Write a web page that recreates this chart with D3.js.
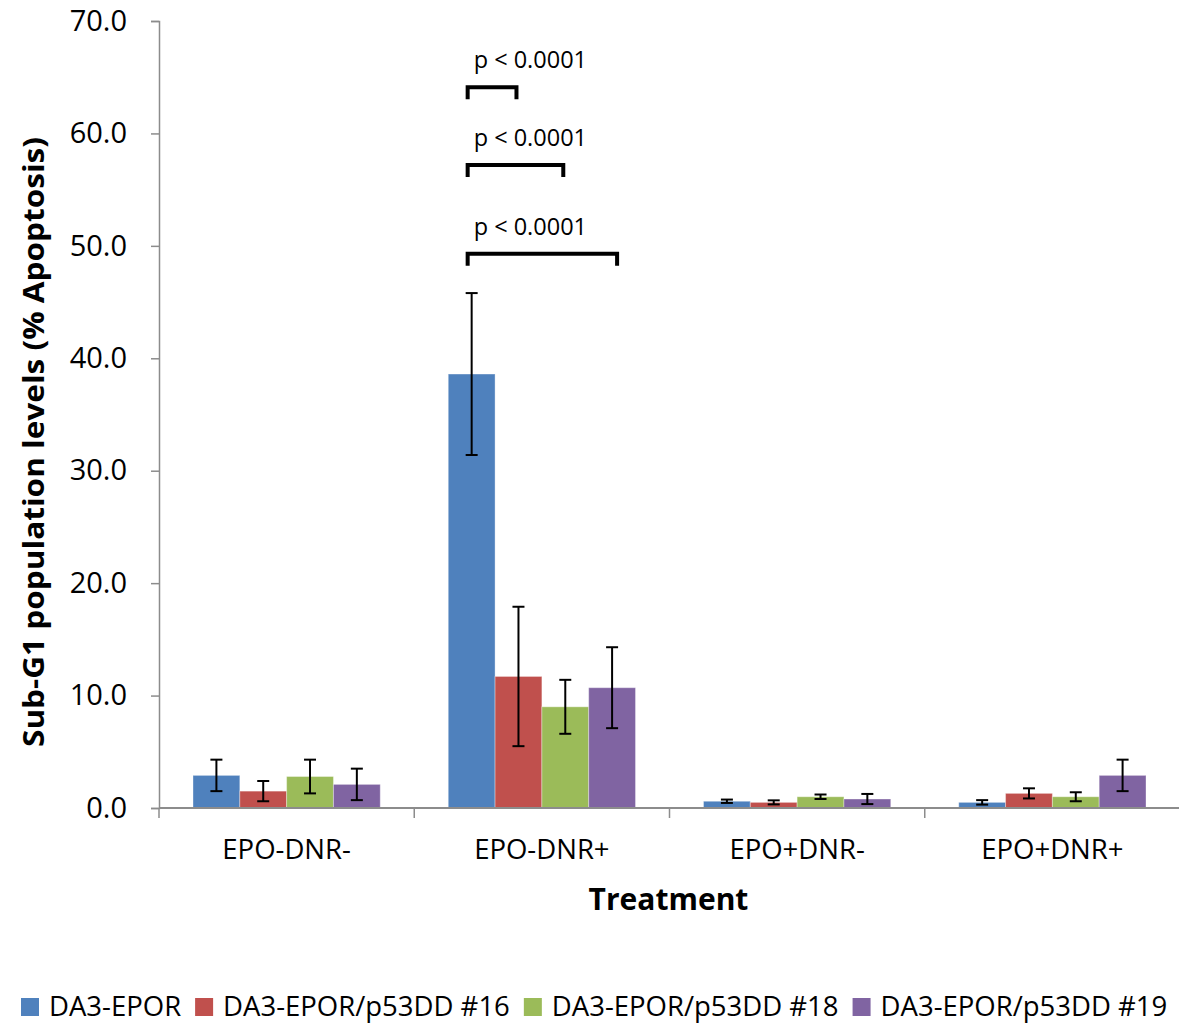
<!DOCTYPE html>
<html>
<head>
<meta charset="utf-8">
<script src="https://cdn.jsdelivr.net/npm/d3@7"></script>
<style>
  html, body { margin: 0; padding: 0; background: #fff; }
  svg { display: block; }
</style>
</head>
<body>
<svg id="chart" width="1179" height="1023"></svg>
<script>
// ---- data ----
const categories = ["EPO-DNR-", "EPO-DNR+", "EPO+DNR-", "EPO+DNR+"];
const seriesNames = ["DA3-EPOR", "DA3-EPOR/p53DD #16", "DA3-EPOR/p53DD #18", "DA3-EPOR/p53DD #19"];
const seriesColors = ["#4F81BD", "#C0504D", "#9BBB59", "#8064A2"];
const meanDA3 = [2.9, 38.6, 0.6, 0.5];
const mean16  = [1.5, 11.7, 0.5, 1.3];
const mean18  = [2.8, 9.0, 1.0, 1.0];
const mean19  = [2.1, 10.7, 0.8, 2.9];
const errDA3  = [1.4, 7.2, 0.15, 0.2];
const err16   = [0.9, 6.2, 0.18, 0.45];
const err18   = [1.5, 2.4, 0.2, 0.4];
const err19   = [1.4, 3.6, 0.45, 1.4];
const yTicks = [0, 10, 20, 30, 40, 50, 60, 70];
const sigLabels = ["p < 0.0001", "p < 0.0001", "p < 0.0001"];
const sigCategory = ["EPO-DNR+", "EPO-DNR+", "EPO-DNR+"];
const sigFrom = [0, 0, 0];
const sigTo = [1, 2, 3];
const sigLevel = [64.1, 57.2, 49.3];

const means = [meanDA3, mean16, mean18, mean19];
const errs = [errDA3, err16, err18, err19];

(function () {
// ---- layout ----
const svg = d3.select("#chart");
const pLeft = 159, pRight = 1180, pTop = 21, pBottom = 808;
const font = "'Open Sans', sans-serif";

const x = d3.scaleBand().domain(categories).range([pLeft, pRight]).padding(0);
const xs = d3.scaleBand().domain(d3.range(seriesNames.length))
  .range([34, x.bandwidth() - 34]).padding(0);
const y = d3.scaleLinear().domain([0, 70]).range([pBottom, pTop]);

// bars
const data = [];
categories.forEach((c, ci) => {
  seriesNames.forEach((s, si) => {
    data.push({ c, si, v: means[si][ci], e: errs[si][ci] });
  });
});

svg.append("g").selectAll("rect").data(data).join("rect")
  .attr("x", d => x(d.c) + xs(d.si))
  .attr("y", d => y(d.v))
  .attr("width", xs.bandwidth())
  .attr("height", d => y(0) - y(d.v))
  .attr("fill", d => seriesColors[d.si])
  .attr("stroke", "rgba(255,255,255,0.35)")
  .attr("stroke-width", 1);

// error bars
const eg = svg.append("g").attr("stroke", "#000").attr("stroke-width", 2);
data.forEach(d => {
  const cx = x(d.c) + xs(d.si) + xs.bandwidth() / 2;
  const y1 = y(d.v + d.e), y2 = y(Math.max(0, d.v - d.e));
  eg.append("line").attr("x1", cx).attr("x2", cx).attr("y1", y1).attr("y2", y2);
  eg.append("line").attr("x1", cx - 6).attr("x2", cx + 6).attr("y1", y1).attr("y2", y1);
  eg.append("line").attr("x1", cx - 6).attr("x2", cx + 6).attr("y1", y2).attr("y2", y2);
});

// y axis
const yAxis = d3.axisLeft(y).tickValues(yTicks).tickFormat(d3.format(".1f")).tickSize(8).tickPadding(24);
const yg = svg.append("g").attr("transform", `translate(${pLeft},0)`).call(yAxis);
yg.select(".domain").attr("stroke", "#8c8c8c").attr("stroke-width", 1.5);
yg.selectAll(".tick line").attr("stroke", "#8c8c8c").attr("stroke-width", 1.5);
yg.selectAll(".tick text").attr("font-family", font).attr("font-size", 29).attr("fill", "#000");

// x axis
const xAxisLine = svg.append("g");
xAxisLine.append("line").attr("x1", pLeft).attr("x2", pRight).attr("y1", pBottom).attr("y2", pBottom)
  .attr("stroke", "#8c8c8c").attr("stroke-width", 2);
const bounds = categories.map(c => x(c)).concat([x(categories[categories.length - 1]) + x.bandwidth()]);
xAxisLine.selectAll(".xt").data(bounds).join("line")
  .attr("x1", d => d).attr("x2", d => d).attr("y1", pBottom).attr("y2", pBottom + 10)
  .attr("stroke", "#8c8c8c").attr("stroke-width", 1.5);
svg.append("g").selectAll("text").data(categories).join("text")
  .attr("x", d => x(d) + x.bandwidth() / 2)
  .attr("y", 859)
  .attr("text-anchor", "middle")
  .attr("font-family", font).attr("font-size", 27.5)
  .text(d => d);

// axis titles
svg.append("text")
  .attr("x", (pLeft + pRight) / 2 - 1).attr("y", 910)
  .attr("text-anchor", "middle")
  .attr("font-family", font).attr("font-size", 30).attr("font-weight", "bold")
  .text("Treatment");
svg.append("text")
  .attr("transform", "translate(44,442) rotate(-90)")
  .attr("text-anchor", "middle")
  .attr("font-family", font).attr("font-size", 29).attr("font-weight", "bold")
  .attr("textLength", 610).attr("lengthAdjust", "spacingAndGlyphs")
  .text("Sub-G1 population levels (% Apoptosis)");

// significance brackets
const bg = svg.append("g");
sigLabels.forEach((lab, i) => {
  const cx = x(sigCategory[i]);
  const x1 = cx + xs(sigFrom[i]) + xs.bandwidth() / 2 - 4;
  const x2 = cx + xs(sigTo[i]) + xs.bandwidth() / 2 + (i === 2 ? 5 : -2);
  const yy = y(sigLevel[i]);
  bg.append("path")
    .attr("d", `M${x1},${yy + 12}V${yy}H${x2}V${yy + 12}`)
    .attr("fill", "none").attr("stroke", "#000").attr("stroke-width", 4);
  bg.append("text")
    .attr("x", x1 + 6).attr("y", yy - 19)
    .attr("font-family", font).attr("font-size", 23.5)
    .text(lab);
});

// legend
const lg = svg.append("g");
let lx = 21;
const legendBase = 1016;
seriesNames.forEach((s, i) => {
  lg.append("rect").attr("x", lx).attr("y", legendBase - 18).attr("width", 18).attr("height", 18)
    .attr("fill", seriesColors[i]);
  const t = lg.append("text").attr("x", lx + 28).attr("y", legendBase)
    .attr("font-family", font).attr("font-size", 27.5).text(s);
  const w = t.node().getComputedTextLength();
  lx += 28 + w + 14;
});
})();
</script>
</body>
</html>
